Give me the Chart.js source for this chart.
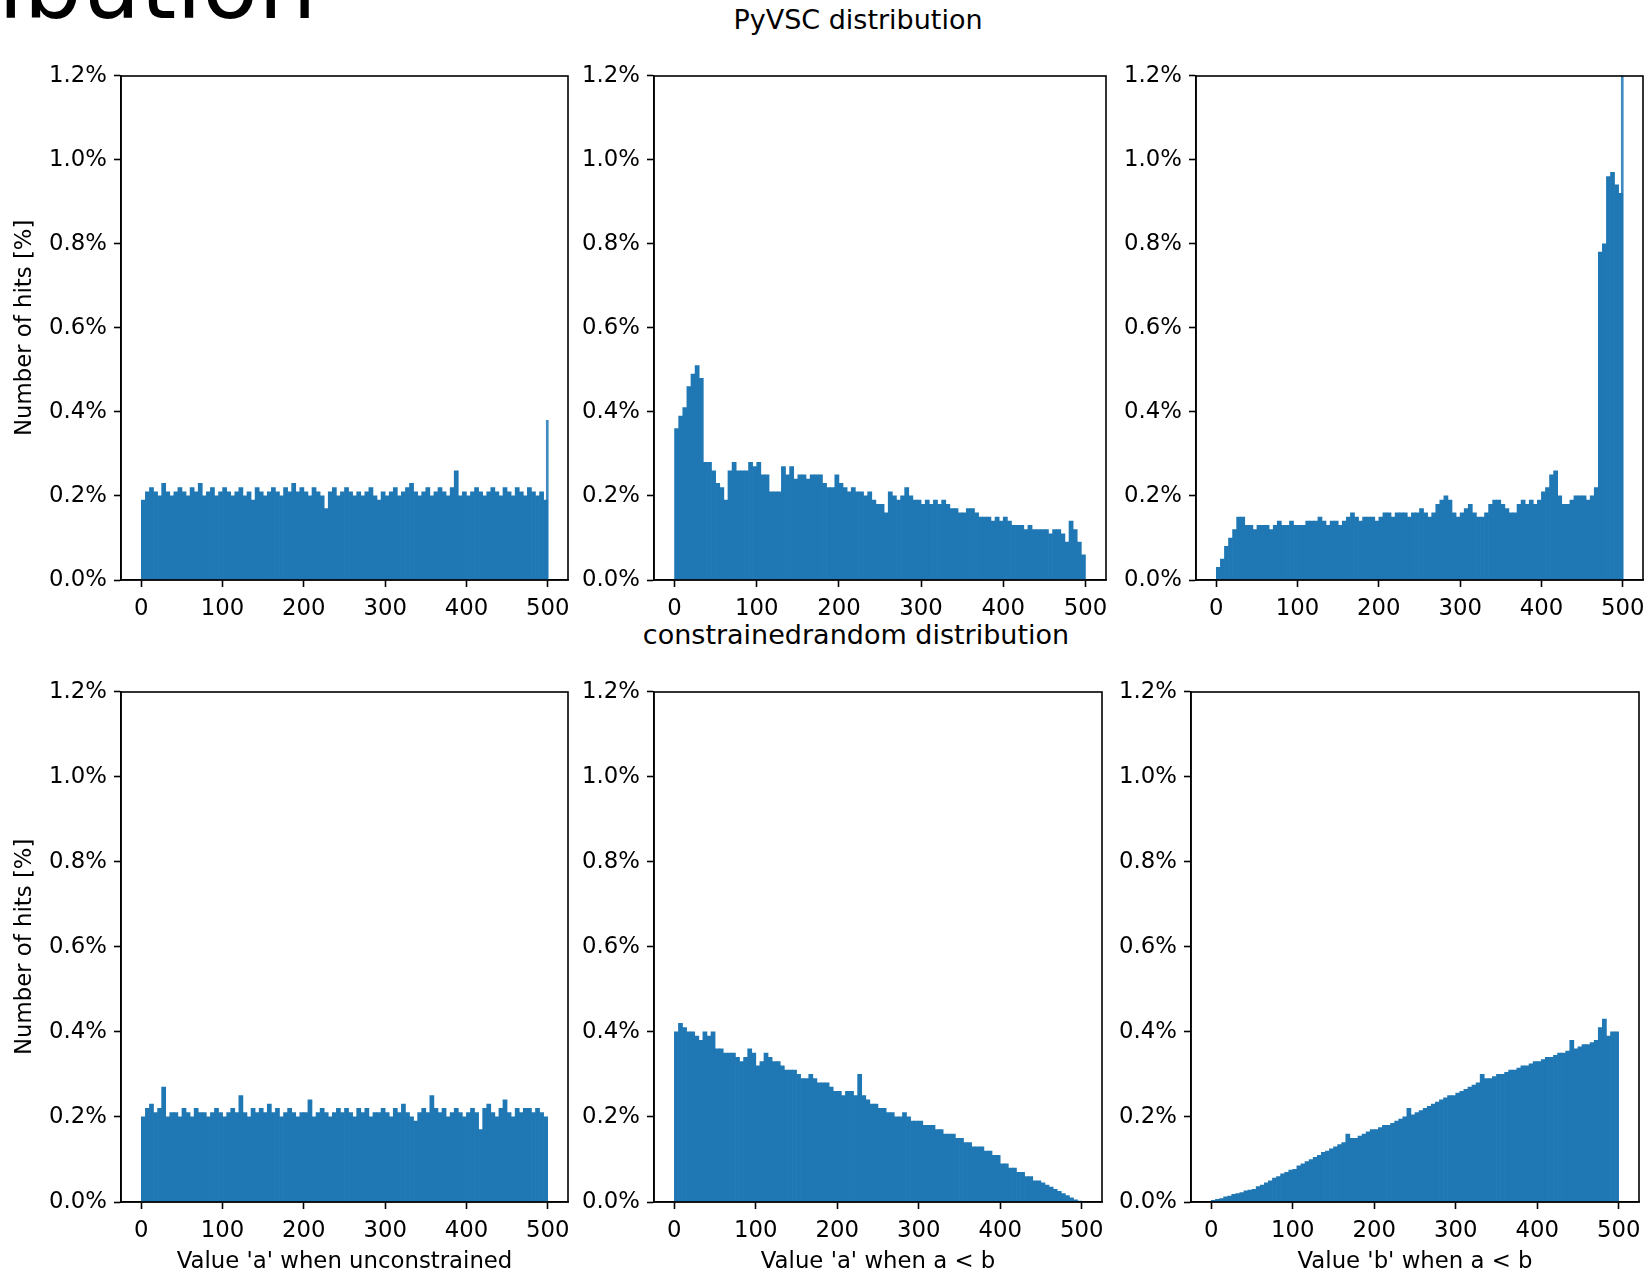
<!DOCTYPE html>
<html>
<head>
<meta charset="utf-8">
<script src="https://cdn.jsdelivr.net/npm/chart.js@4.4.1/dist/chart.umd.min.js"></script>
<style>
html, body { margin: 0; padding: 0; background: #fff; overflow: hidden; }
#fig { position: relative; width: 1649px; height: 1274px; overflow: hidden; background: #fff;
       font-family: "DejaVu Sans", sans-serif; color: #000; }
#fig canvas { position: absolute; }
.txt { position: absolute; white-space: nowrap; }
</style>
</head>
<body>
<div id="fig">
  <div class="txt" style="left:-2px; top:-59px; font-size:92px; line-height:92px;">ibution</div>
  <div class="txt" style="left:458px; width:800px; text-align:center; top:6px; font-size:27px; line-height:28px;">PyVSC distribution</div>
  <div class="txt" style="left:456px; width:800px; text-align:center; top:621px; font-size:27px; line-height:28px;">constrainedrandom distribution</div>
</div>
<script>
// histogram bins: start of each 5-wide bin
var binStarts = [0,5,10,15,20,25,30,35,40,45,50,55,60,65,70,75,80,85,90,95,
    100,105,110,115,120,125,130,135,140,145,150,155,160,165,170,175,180,185,190,195,
    200,205,210,215,220,225,230,235,240,245,250,255,260,265,270,275,280,285,290,295,
    300,305,310,315,320,325,330,335,340,345,350,355,360,365,370,375,380,385,390,395,
    400,405,410,415,420,425,430,435,440,445,450,455,460,465,470,475,480,485,490,495];
var binWidth = 5;
var spikeX = [499.5];

var xTickValues = [0, 100, 200, 300, 400, 500];
var yTickValues = [0, 0.2, 0.4, 0.6, 0.8, 1.0, 1.2];

// PyVSC, value 'a' unconstrained
var pyvscA = [0.19,0.21,0.22,0.21,0.20,0.23,0.21,0.20,0.21,0.22,
    0.21,0.20,0.22,0.21,0.23,0.20,0.21,0.22,0.20,0.21,
    0.22,0.21,0.20,0.21,0.22,0.20,0.21,0.19,0.22,0.21,
    0.20,0.21,0.22,0.21,0.20,0.22,0.21,0.23,0.21,0.22,
    0.21,0.20,0.22,0.21,0.20,0.17,0.21,0.22,0.20,0.21,
    0.22,0.21,0.20,0.21,0.20,0.21,0.22,0.20,0.19,0.21,
    0.20,0.21,0.22,0.20,0.21,0.22,0.23,0.21,0.20,0.21,
    0.22,0.20,0.21,0.22,0.21,0.20,0.22,0.26,0.20,0.21,
    0.20,0.21,0.22,0.21,0.20,0.21,0.22,0.21,0.20,0.22,
    0.21,0.20,0.22,0.21,0.20,0.22,0.21,0.20,0.21,0.19];
var pyvscASpike = 0.38;

// PyVSC, value 'a' when a < b
var pyvscALt = [0.36,0.39,0.41,0.46,0.49,0.51,0.48,0.28,0.28,0.26,
    0.23,0.22,0.19,0.26,0.28,0.26,0.26,0.26,0.28,0.27,
    0.28,0.25,0.25,0.21,0.21,0.21,0.27,0.25,0.27,0.24,
    0.25,0.25,0.24,0.25,0.25,0.25,0.23,0.22,0.22,0.25,
    0.23,0.22,0.21,0.22,0.21,0.21,0.20,0.21,0.19,0.18,
    0.18,0.16,0.21,0.20,0.19,0.20,0.22,0.20,0.19,0.19,
    0.18,0.19,0.18,0.19,0.18,0.19,0.18,0.17,0.17,0.16,
    0.16,0.17,0.17,0.16,0.15,0.15,0.15,0.14,0.15,0.14,
    0.15,0.14,0.13,0.13,0.13,0.12,0.13,0.12,0.12,0.12,
    0.12,0.11,0.12,0.12,0.11,0.09,0.14,0.12,0.09,0.06];

// PyVSC, value 'b' when a < b
var pyvscBLt = [0.03,0.05,0.08,0.10,0.12,0.15,0.15,0.13,0.13,0.12,
    0.13,0.13,0.13,0.12,0.13,0.14,0.13,0.13,0.14,0.13,
    0.13,0.13,0.14,0.14,0.14,0.15,0.14,0.13,0.14,0.14,
    0.13,0.14,0.15,0.16,0.15,0.14,0.15,0.15,0.15,0.14,
    0.15,0.16,0.16,0.15,0.16,0.16,0.16,0.15,0.16,0.16,
    0.17,0.16,0.15,0.16,0.18,0.19,0.20,0.19,0.16,0.15,
    0.16,0.17,0.18,0.16,0.15,0.15,0.16,0.18,0.19,0.19,
    0.18,0.17,0.16,0.16,0.18,0.19,0.18,0.19,0.18,0.19,
    0.21,0.22,0.25,0.26,0.20,0.18,0.18,0.19,0.20,0.20,
    0.20,0.19,0.20,0.22,0.78,0.80,0.96,0.97,0.94,0.92];
var pyvscBSpike = 1.3;

// constrainedrandom, value 'a' unconstrained
var crA = [0.20,0.22,0.23,0.21,0.22,0.27,0.20,0.21,0.21,0.20,
    0.22,0.21,0.20,0.22,0.21,0.21,0.20,0.21,0.22,0.21,
    0.20,0.21,0.22,0.21,0.25,0.21,0.20,0.22,0.21,0.22,
    0.21,0.23,0.21,0.22,0.20,0.21,0.22,0.21,0.20,0.21,
    0.21,0.24,0.20,0.21,0.22,0.21,0.20,0.21,0.22,0.21,
    0.22,0.21,0.20,0.22,0.21,0.22,0.20,0.21,0.21,0.22,
    0.21,0.20,0.22,0.21,0.23,0.21,0.20,0.19,0.21,0.22,
    0.21,0.25,0.22,0.21,0.22,0.20,0.21,0.22,0.21,0.20,
    0.21,0.22,0.21,0.17,0.22,0.23,0.21,0.20,0.22,0.24,
    0.21,0.20,0.22,0.21,0.22,0.22,0.21,0.22,0.21,0.20];

// constrainedrandom, value 'a' when a < b
var crALt = [0.40,0.42,0.41,0.40,0.40,0.39,0.38,0.40,0.39,0.40,
    0.36,0.36,0.35,0.35,0.35,0.34,0.33,0.34,0.36,0.35,
    0.32,0.33,0.35,0.34,0.33,0.33,0.32,0.31,0.31,0.31,
    0.30,0.29,0.29,0.30,0.29,0.28,0.28,0.28,0.27,0.26,
    0.26,0.25,0.26,0.26,0.25,0.30,0.25,0.24,0.23,0.23,
    0.22,0.22,0.21,0.21,0.20,0.20,0.21,0.20,0.19,0.19,
    0.19,0.18,0.18,0.18,0.17,0.17,0.16,0.16,0.16,0.15,
    0.15,0.14,0.14,0.13,0.13,0.13,0.12,0.12,0.11,0.11,
    0.09,0.09,0.08,0.08,0.07,0.07,0.06,0.06,0.05,0.05,
    0.045,0.04,0.035,0.03,0.025,0.02,0.015,0.01,0.005,0.002];

// constrainedrandom, value 'b' when a < b
var crBLt = [0.004,0.006,0.008,0.012,0.014,0.018,0.020,0.022,0.026,0.028,
    0.030,0.036,0.040,0.045,0.050,0.056,0.060,0.066,0.070,0.075,
    0.077,0.085,0.090,0.095,0.100,0.105,0.110,0.117,0.120,0.125,
    0.130,0.135,0.140,0.160,0.150,0.150,0.155,0.160,0.165,0.170,
    0.170,0.175,0.180,0.180,0.185,0.190,0.195,0.200,0.220,0.205,
    0.210,0.215,0.220,0.225,0.230,0.235,0.240,0.245,0.250,0.250,
    0.256,0.260,0.265,0.270,0.275,0.280,0.300,0.290,0.290,0.295,
    0.300,0.300,0.305,0.310,0.310,0.315,0.320,0.320,0.325,0.330,
    0.330,0.335,0.340,0.340,0.345,0.350,0.350,0.355,0.380,0.360,
    0.365,0.370,0.370,0.375,0.380,0.410,0.430,0.390,0.400,0.400];

var FONT = '"DejaVu Sans", sans-serif';
var FSIZE = 22.8;
var BLUE = '#1f77b4';
var fig = document.getElementById('fig');

var binCenters = binStarts.map(function (s) { return s + binWidth / 2; });

// left, right, top, bottom of each plot area
var panels = [
    { values: pyvscA,    spike: pyvscASpike, box: [121, 568, 75, 580],   yTitle: true,  xTitle: null },
    { values: pyvscALt,  spike: null,        box: [654, 1106, 75, 580],  yTitle: false, xTitle: null },
    { values: pyvscBLt,  spike: pyvscBSpike, box: [1196, 1643, 75, 580], yTitle: false, xTitle: null },
    { values: crA,       spike: null,        box: [121, 568, 691, 1202], yTitle: true,  xTitle: "Value 'a' when unconstrained" },
    { values: crALt,     spike: null,        box: [654, 1102, 691, 1202], yTitle: false, xTitle: "Value 'a' when a < b" },
    { values: crBLt,     spike: null,        box: [1191, 1639, 691, 1202], yTitle: false, xTitle: "Value 'b' when a < b" }
];

var framePlugin = {
    id: 'frame',
    afterDatasetsDraw: function (chart) {
        var a = chart.chartArea, ctx = chart.ctx;
        ctx.save();
        ctx.strokeStyle = '#000';
        ctx.lineWidth = 1.6;
        ctx.strokeRect(Math.round(a.left), Math.round(a.top), Math.round(a.right) - Math.round(a.left), Math.round(a.bottom) - Math.round(a.top));
        ctx.restore();
    }
};

function axisGrid() {
    return { display: true, drawOnChartArea: false, drawTicks: true, tickLength: 7,
             tickColor: '#000', tickWidth: 1.6, offset: false };
}

function makePanel(p) {
    var L = p.box[0], R = p.box[1], T = p.box[2], B = p.box[3];
    var yw = 110, pt = 20, pr = 30, xh = p.xTitle ? 74 : 46;
    var w = (R - L) + yw + pr, h = (B - T) + pt + xh;
    var c = document.createElement('canvas');
    c.width = w; c.height = h;
    c.style.left = (L - yw) + 'px';
    c.style.top = (T - pt) + 'px';
    c.style.width = w + 'px';
    c.style.height = h + 'px';
    fig.appendChild(c);

    var datasets = [{
        data: p.values, backgroundColor: BLUE, borderWidth: 0, grouped: false,
        barPercentage: 1, categoryPercentage: 1, xAxisID: 'x', yAxisID: 'y'
    }];
    if (p.spike !== null) {
        datasets.push({
            data: [{ x: spikeX[0], y: p.spike }], backgroundColor: '#3f8ac0', borderWidth: 0,
            grouped: false, barThickness: 2, xAxisID: 'xs', yAxisID: 'y'
        });
    }

    new Chart(c, {
        type: 'bar',
        data: { labels: binCenters, datasets: datasets },
        plugins: [framePlugin],
        options: {
            responsive: false,
            animation: false,
            events: [],
            layout: { padding: { top: pt, right: pr, left: 0, bottom: 0 } },
            plugins: { legend: { display: false }, tooltip: { enabled: false } },
            scales: {
                x: {
                    type: 'linear', min: -25, max: 525, offset: false,
                    afterBuildTicks: function (s) { s.ticks = xTickValues.map(function (v) { return { value: v }; }); },
                    afterFit: function (s) { s.height = xh; },
                    grid: axisGrid(),
                    border: { display: true, color: '#000', width: 1.6 },
                    ticks: { color: '#000', font: { family: FONT, size: FSIZE }, padding: 8, maxRotation: 0, autoSkip: false },
                    title: p.xTitle ? { display: true, text: p.xTitle, color: '#000',
                                        font: { family: FONT, size: FSIZE }, padding: { top: 0, bottom: 0 } }
                                    : { display: false }
                },
                xs: { type: 'linear', min: -25, max: 525, offset: false, display: false },
                y: {
                    min: 0, max: 1.2,
                    afterBuildTicks: function (s) { s.ticks = yTickValues.map(function (v) { return { value: v }; }); },
                    afterFit: function (s) { s.width = yw; },
                    grid: axisGrid(),
                    border: { display: true, color: '#000', width: 1.6 },
                    ticks: { color: '#000', font: { family: FONT, size: FSIZE }, padding: 7,
                             callback: function (v) { return v.toFixed(1) + '%'; } },
                    title: p.yTitle ? { display: true, text: 'Number of hits [%]', color: '#000',
                                        font: { family: FONT, size: FSIZE }, padding: { top: 0, bottom: 0 } }
                                    : { display: false }
                }
            }
        }
    });
}

panels.forEach(makePanel);
</script>
</body>
</html>
